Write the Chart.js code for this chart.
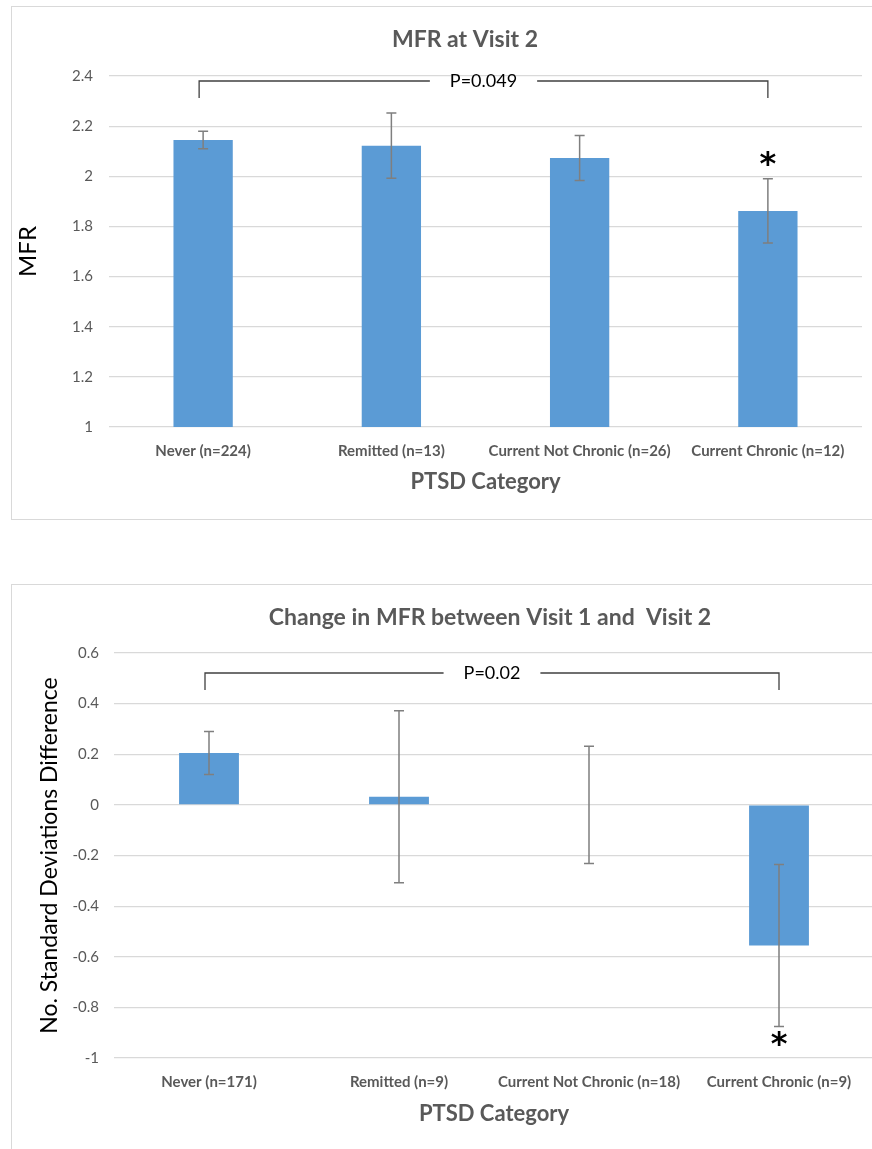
<!DOCTYPE html>
<html>
<head>
<meta charset="utf-8">
<title>MFR por categoría PTSD</title>
<script src="https://cdn.jsdelivr.net/npm/chart.js@4.4.1/dist/chart.umd.min.js"></script>
<style>
    body { margin: 0; background: #fff; width: 872px; height: 1149px; overflow: hidden; position: relative; }
    .caja { position: absolute; border: 1.5px solid #d9d9d9; }
    #caja1 { left: 11px; top: 6px; width: 900px; height: 512px; }
    #caja2 { left: 11px; top: 584px; width: 900px; height: 620px; }
    canvas { position: absolute; left: 0; }
    #grafico1 { top: 0; }
    #grafico2 { top: 585px; }
</style>
</head>
<body>
<div class="caja" id="caja1"></div>
<div class="caja" id="caja2"></div>
<canvas id="grafico1" width="872" height="520"></canvas>
<canvas id="grafico2" width="880" height="564"></canvas>

<script>
// ==================== DATOS ====================

// Gráfico 1: MFR en la visita 2
const categoriasV2 = ['Never (n=224)', 'Remitted (n=13)', 'Current Not Chronic (n=26)', 'Current Chronic (n=12)'];
const mfrV2 = [2.145, 2.122, 2.073, 1.862];
const errorV2 = [0.035, 0.13, 0.09, 0.128];
const ticksV2 = [1, 1.2, 1.4, 1.6, 1.8, 2, 2.2, 2.4];

// Gráfico 2: cambio entre visita 1 y visita 2
const categoriasCambio = ['Never (n=171)', 'Remitted (n=9)', 'Current Not Chronic (n=18)', 'Current Chronic (n=9)'];
const cambioDE = [0.205, 0.032, 0, -0.556];
const errorCambio = [0.085, 0.34, 0.232, 0.32];
const ticksCambio = [-1, -0.8, -0.6, -0.4, -0.2, 0, 0.2, 0.4, 0.6];

// ==================== ESTILOS ====================

const FUENTE = "Lato, 'Open Sans', sans-serif";
const GRIS_TEXTO = '#595959';
const AZUL = '#5b9bd5';

// Dibuja título, barras de error, la llave con el valor P y el asterisco
const pluginAnotaciones = {
    id: 'anotaciones',
    afterDatasetsDraw(chart, args, opts) {
        const { ctx } = chart;
        const x = chart.scales.x;
        const y = chart.scales.y;
        const medias = chart.data.datasets[0].data;

        ctx.save();

        // título (Excel lo centra sobre todo el objeto, no sobre el área)
        ctx.fillStyle = GRIS_TEXTO;
        ctx.font = `bold 23px ${FUENTE}`;
        ctx.textAlign = 'center';
        ctx.textBaseline = 'middle';
        ctx.fillText(opts.titulo.texto, opts.titulo.x, opts.titulo.y);

        // barras de error
        ctx.strokeStyle = '#7f7f7f';
        ctx.lineWidth = 1.5;
        medias.forEach((m, i) => {
            const px = x.getPixelForValue(i);
            const arriba = y.getPixelForValue(m + opts.errores[i]);
            const abajo = y.getPixelForValue(m - opts.errores[i]);
            ctx.beginPath();
            ctx.moveTo(px, arriba);
            ctx.lineTo(px, abajo);
            ctx.moveTo(px - 5, arriba);
            ctx.lineTo(px + 5, arriba);
            ctx.moveTo(px - 5, abajo);
            ctx.lineTo(px + 5, abajo);
            ctx.stroke();
        });

        // llave de significancia
        const llave = opts.llave;
        const x1 = x.getPixelForValue(llave.desde) - 4;
        const x2 = x.getPixelForValue(llave.hasta);
        const yNivel = y.getPixelForValue(llave.nivel);
        const yPata = y.getPixelForValue(llave.pata);
        const medio = (x1 + x2) / 2;

        ctx.font = `18px ${FUENTE}`;
        const ancho = ctx.measureText(llave.texto).width;

        ctx.strokeStyle = '#404040';
        ctx.lineWidth = 1.3;
        ctx.beginPath();
        ctx.moveTo(x1, yPata);
        ctx.lineTo(x1, yNivel);
        ctx.lineTo(medio - ancho / 2 - 20, yNivel);
        ctx.moveTo(medio + ancho / 2 + 20, yNivel);
        ctx.lineTo(x2, yNivel);
        ctx.lineTo(x2, yPata);
        ctx.stroke();

        ctx.fillStyle = '#000';
        ctx.fillText(llave.texto, medio, yNivel);

        // asterisco (valor = centro del glifo)
        const ast = opts.asterisco;
        ctx.font = "bold 32px 'DejaVu Sans', sans-serif";
        ctx.textBaseline = 'alphabetic';
        ctx.fillText('*', x.getPixelForValue(ast.indice), y.getPixelForValue(ast.valor) + 14);

        ctx.restore();
    }
};

function crearGrafico(canvasId, cfg) {
    const ctx = document.getElementById(canvasId);
    return new Chart(ctx, {
        type: 'bar',
        data: {
            labels: cfg.categorias,
            datasets: [{
                data: cfg.valores,
                backgroundColor: AZUL,
                borderWidth: 0,
                categoryPercentage: 1,
                barPercentage: 0.315
            }]
        },
        options: {
            responsive: false,
            animation: false,
            events: [],
            layout: { padding: cfg.padding },
            plugins: {
                legend: { display: false },
                tooltip: { enabled: false },
                title: { display: false },
                anotaciones: {
                    titulo: cfg.titulo,
                    errores: cfg.errores,
                    llave: cfg.llave,
                    asterisco: cfg.asterisco
                }
            },
            scales: {
                x: {
                    grid: { display: false },
                    border: { display: false },
                    ticks: {
                        color: GRIS_TEXTO,
                        padding: 7,
                        maxRotation: 0,
                        autoSkip: false,
                        font: { family: FUENTE, size: 15, weight: 'bold' }
                    },
                    title: {
                        display: true,
                        text: 'PTSD Category',
                        color: GRIS_TEXTO,
                        font: { family: FUENTE, size: 22, weight: 'bold' },
                        padding: { top: 0, bottom: cfg.ejeXTituloPadding }
                    },
                    afterFit: s => { s.height = cfg.altoEjeX; }
                },
                y: {
                    min: cfg.ticks[0],
                    max: cfg.ticks[cfg.ticks.length - 1],
                    afterBuildTicks: s => { s.ticks = cfg.ticks.map(v => ({ value: v })); },
                    grid: { color: '#d9d9d9', lineWidth: 1.2, drawTicks: false },
                    border: { display: false },
                    ticks: {
                        color: GRIS_TEXTO,
                        padding: cfg.ticksPadding,
                        font: { family: FUENTE, size: 15 },
                        callback: v => String(v)
                    },
                    title: {
                        display: true,
                        text: cfg.ejeY,
                        color: '#000',
                        font: { family: FUENTE, size: cfg.ejeYTamano },
                        padding: { top: cfg.ejeYPadding, bottom: 0 }
                    },
                    afterFit: s => { s.width = cfg.anchoEjeY; }
                }
            }
        },
        plugins: [pluginAnotaciones]
    });
}

// ==================== INICIALIZACIÓN ====================

crearGrafico('grafico1', {
    categorias: categoriasV2,
    valores: mfrV2,
    errores: errorV2,
    ticks: ticksV2,
    titulo: { texto: 'MFR at Visit 2', x: 465, y: 40 },
    ejeY: 'MFR',
    ejeYTamano: 24,
    ejeYPadding: 2,
    padding: { top: 76, left: 12, right: 10, bottom: 0 },
    altoEjeX: 93,
    ejeXTituloPadding: 25,
    anchoEjeY: 97,
    ticksPadding: 16,
    llave: { desde: 0, hasta: 3, nivel: 2.38, pata: 2.312, texto: 'P=0.049' },
    asterisco: { indice: 3, valor: 2.065 }
});

crearGrafico('grafico2', {
    categorias: categoriasCambio,
    valores: cambioDE,
    errores: errorCambio,
    ticks: ticksCambio,
    titulo: { texto: 'Change in MFR between Visit 1 and  Visit 2', x: 490, y: 33 },
    ejeY: 'No. Standard Deviations Difference',
    ejeYTamano: 23,
    ejeYPadding: 24,
    padding: { top: 68, left: 12, right: 6, bottom: 0 },
    altoEjeX: 91,
    ejeXTituloPadding: 22,
    anchoEjeY: 102,
    ticksPadding: 15,
    llave: { desde: 0, hasta: 3, nivel: 0.521, pata: 0.454, texto: 'P=0.02' },
    asterisco: { indice: 3, valor: -0.93 }
});
</script>
</body>
</html>
